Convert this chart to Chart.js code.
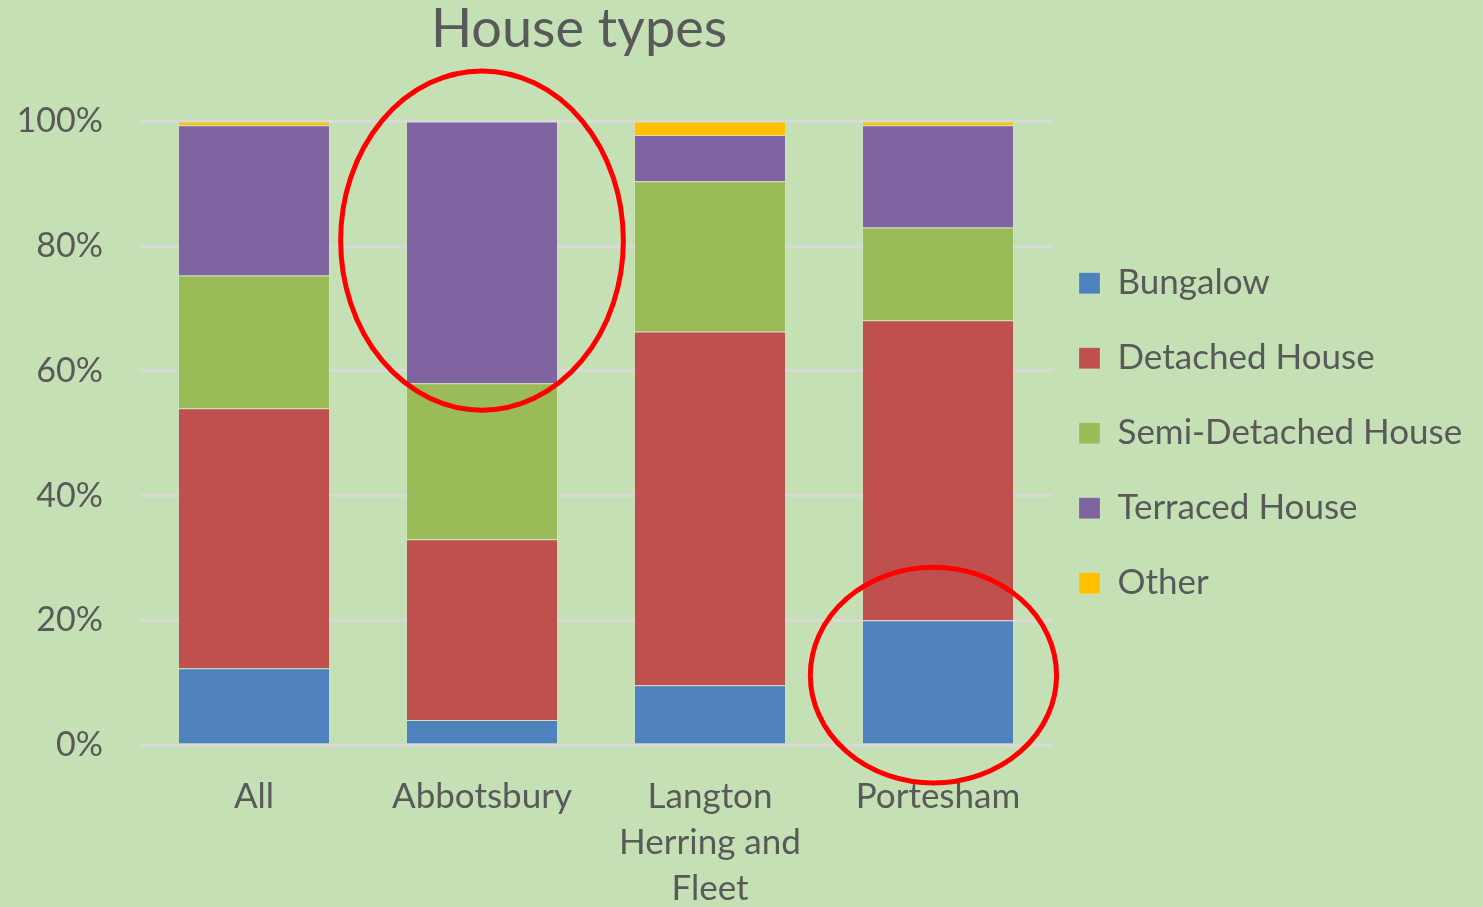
<!DOCTYPE html>
<html>
<head>
<meta charset="utf-8">
<title>House types</title>
<script src="https://cdn.jsdelivr.net/npm/chart.js@4.4.0/dist/chart.umd.min.js"></script>
<style>
  html, body { margin: 0; padding: 0; background: #c5e0b4; }
  #wrap { width: 1483px; height: 907px; }
</style>
</head>
<body>
<div id="wrap"><canvas id="houseChart" width="1483" height="907"></canvas></div>
<script>
// categories and series (percent of homes)
var places = ['All', 'Abbotsbury', ['Langton', 'Herring and', 'Fleet'], 'Portesham'];
var bungalow = [12.3, 4.0, 9.6, 20.0];
var detached = [41.7, 29.0, 56.7, 48.1];
var semiDetached = [21.3, 25.0, 24.1, 14.9];
var terraced = [24.1, 42.0, 7.4, 16.4];
var other = [0.6, 0.0, 2.2, 0.6];
var yTicks = [0, 20, 40, 60, 80, 100];

// red rings drawn over the chart: category index, centre value, radius (categories / percent)
var rings = [
    { cat: 1, dx: 0, value: 80.9, rx: 0.62, ry: 27.2 },
    { cat: 3, dx: -0.02, value: 11.2, rx: 0.54, ry: 17.3 }
];

var textGrey = '#595959';
var font = 'Lato';

var ringPlugin = {
    id: 'rings',
    afterLayout: function (chart) {
        // small nudges so title and legend sit where the original has them
        chart.titleBlock.left -= 17;
        chart.titleBlock.right -= 17;
        chart.legend.left -= 13;
        chart.legend.right -= 13;
    },
    afterDatasetsDraw: function (chart) {
        var ctx = chart.ctx;
        var x = chart.scales.x, y = chart.scales.y;
        var step = x.getPixelForValue(1) - x.getPixelForValue(0);
        ctx.save();
        ctx.strokeStyle = '#ff0000';
        ctx.lineWidth = 5;
        rings.forEach(function (r) {
            var cx = x.getPixelForValue(r.cat) + r.dx * step;
            var cy = y.getPixelForValue(r.value);
            var ry = y.getPixelForValue(0) - y.getPixelForValue(r.ry);
            ctx.beginPath();
            ctx.ellipse(cx, cy, r.rx * step, ry, 0, 0, Math.PI * 2);
            ctx.stroke();
        });
        ctx.restore();
    }
};

function series(label, data, color) {
    return {
        label: label,
        data: data,
        backgroundColor: color,
        borderColor: 'rgba(255,255,255,0.15)',
        borderWidth: 1,
        barPercentage: 0.667,
        categoryPercentage: 1.0
    };
}

var ctx = document.getElementById('houseChart').getContext('2d');
var chart = new Chart(ctx, {
    type: 'bar',
    data: {
        labels: places,
        datasets: [
            series('Bungalow', bungalow, '#4f81bd'),
            series('Detached House', detached, '#c0504d'),
            series('Semi-Detached House', semiDetached, '#9bbb59'),
            series('Terraced House', terraced, '#8064a2'),
            series('Other', other, '#ffc000')
        ]
    },
    options: {
        responsive: false,
        animation: false,
        layout: { padding: 0 },
        plugins: {
            title: {
                display: true,
                fullSize: false,
                text: 'House types',
                color: textGrey,
                font: { family: font, size: 54, weight: 'normal', lineHeight: 1.1 },
                padding: { top: 0, bottom: 62 }
            },
            legend: {
                position: 'right',
                fullSize: false,
                maxWidth: 431,
                labels: {
                    color: textGrey,
                    font: { family: font, size: 35 },
                    boxWidth: 21,
                    boxHeight: 21,
                    padding: 40
                }
            },
            tooltip: { enabled: false }
        },
        scales: {
            x: {
                stacked: true,
                grid: { display: false, drawTicks: false },
                border: { display: false },
                ticks: {
                    color: textGrey,
                    font: { family: font, size: 35, lineHeight: 1.31 },
                    padding: 29,
                    maxRotation: 0,
                    autoSkip: false
                },
                afterFit: function (scale) { scale.height = 162; }
            },
            y: {
                stacked: true,
                min: 0,
                max: 100,
                afterBuildTicks: function (scale) {
                    scale.ticks = yTicks.map(function (v) { return { value: v }; });
                },
                grid: { color: '#d9d9d9', lineWidth: 3, drawTicks: false },
                border: { display: false },
                ticks: {
                    color: textGrey,
                    font: { family: font, size: 34 },
                    padding: 37,
                    callback: function (v) { return v + '%'; }
                },
                afterFit: function (scale) { scale.width = 140; }
            }
        }
    },
    plugins: [ringPlugin]
});
</script>
</body>
</html>
